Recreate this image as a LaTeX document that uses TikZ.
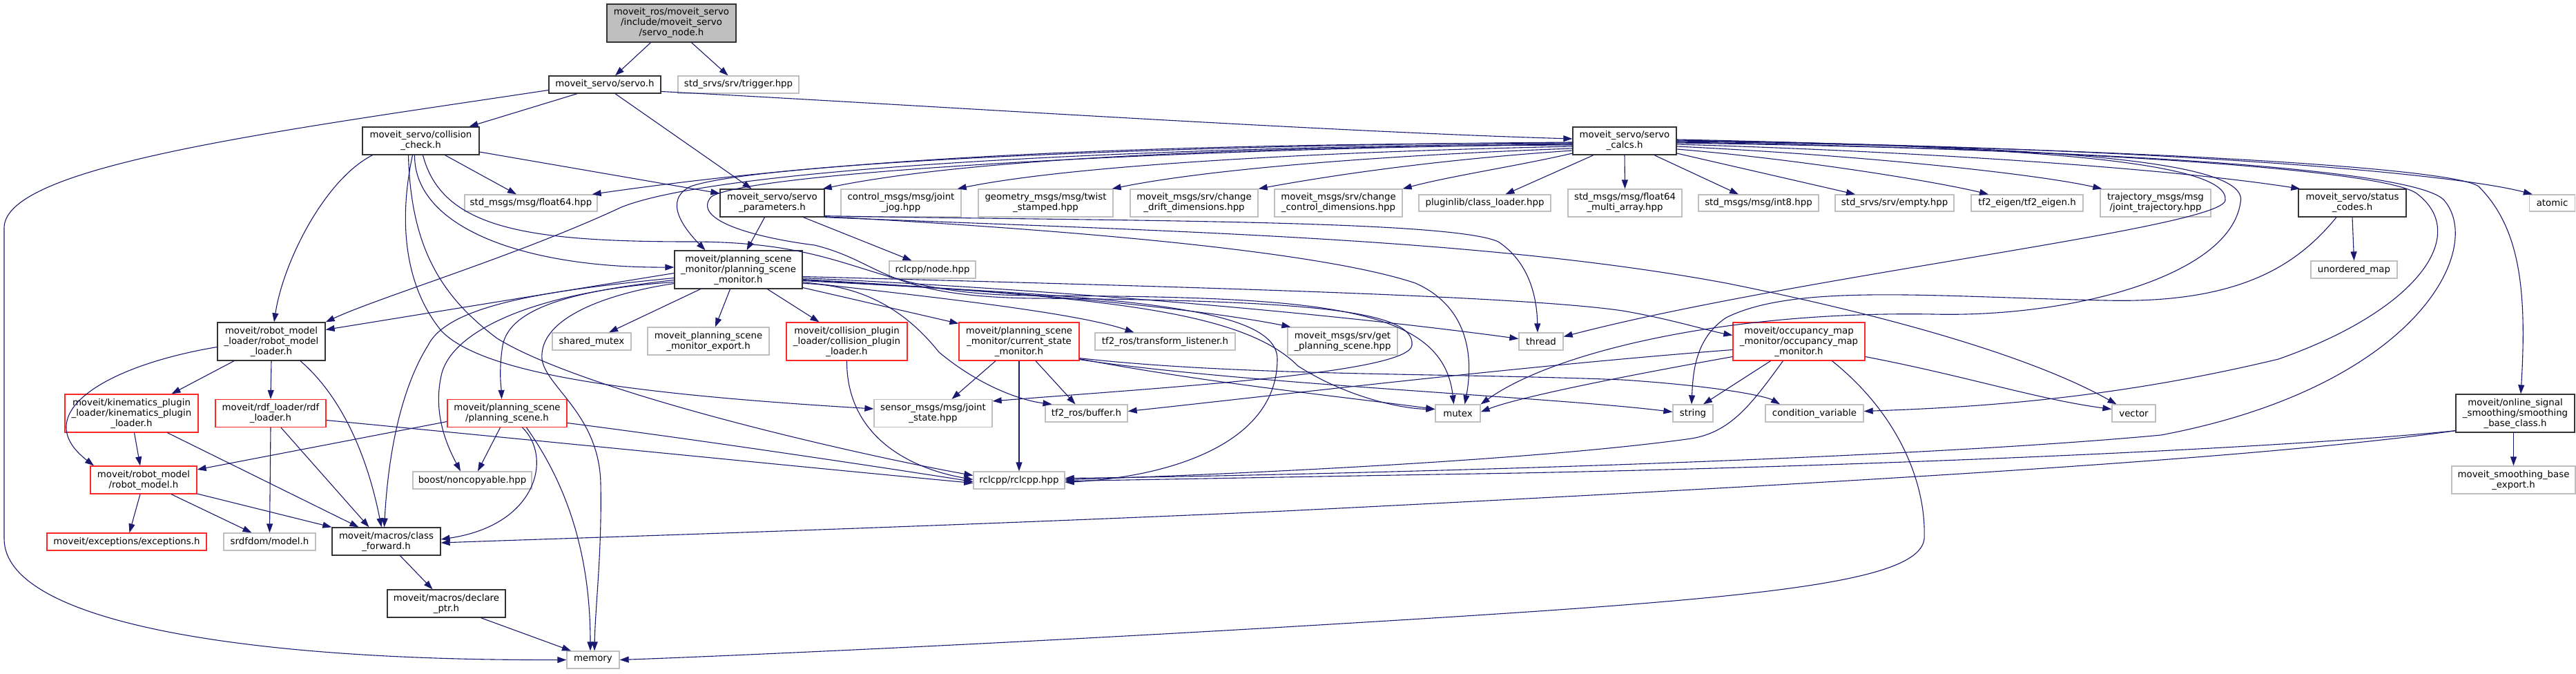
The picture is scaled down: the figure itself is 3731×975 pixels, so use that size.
\documentclass[tikz,border=0pt]{standalone}
\usepackage{fontspec}
\setmainfont{DejaVu Sans}
\usetikzlibrary{arrows.meta}
\definecolor{mblue}{HTML}{191970}
\definecolor{extgray}{HTML}{BFBFBF}
\definecolor{docborder}{HTML}{333333}
\definecolor{truncred}{HTML}{FF2828}
\definecolor{rootfill}{HTML}{BFBFBF}
\tikzset{
  basebox/.style={rectangle, inner sep=0pt, align=center, line width=1.3pt,
    font=\fontsize{13.33pt}{15pt}\selectfont},
  docbox/.style={basebox, draw=docborder},
  extbox/.style={basebox, draw=extgray},
  redbox/.style={basebox, draw=truncred},
  rootbox/.style={basebox, draw=docborder, fill=rootfill},
  e/.style={draw=mblue, line width=1.1pt, -{Triangle[length=13pt,width=9pt]}},
}
\newcommand\mknode[6]{\node[#1, minimum width=#4pt, minimum height=#5pt] (#2) at (#3) {#6};}
\begin{document}
\begin{tikzpicture}[x=1pt,y=-1pt]
\useasboundingbox (0,0) rectangle (3731,975);
% ---------- nodes ----------
\mknode{rootbox}{root}{972.5,33.5}{187}{55}{moveit\_ros/moveit\_servo\\/include/moveit\_servo\\/servo\_node.h}
\mknode{docbox}{servo}{876,122.5}{162}{25}{moveit\_servo/servo.h}
\mknode{extbox}{trigger}{1069.5,122.5}{175}{25}{std\_srvs/srv/trigger.hpp}
\mknode{docbox}{cc}{609.5,204}{169}{40}{moveit\_servo/collision\\\_check.h}
\mknode{docbox}{calcs}{2353,204}{150}{40}{moveit\_servo/servo\\\_calcs.h}
\mknode{extbox}{float64}{769,294}{192}{24}{std\_msgs/msg/float64.hpp}
\mknode{docbox}{params}{1118.5,294}{151}{40}{moveit\_servo/servo\\\_parameters.h}
\mknode{extbox}{jointjog}{1305,294}{174}{40}{control\_msgs/msg/joint\\\_jog.hpp}
\mknode{extbox}{twist}{1514.5,294}{195}{40}{geometry\_msgs/msg/twist\\\_stamped.hpp}
\mknode{extbox}{drift}{1729.5,294}{185}{40}{moveit\_msgs/srv/change\\\_drift\_dimensions.hpp}
\mknode{extbox}{control}{1938.5,294}{185}{40}{moveit\_msgs/srv/change\\\_control\_dimensions.hpp}
\mknode{extbox}{classloader}{2150.5,294}{191}{24}{pluginlib/class\_loader.hpp}
\mknode{extbox}{fmulti}{2353.5,294}{165}{40}{std\_msgs/msg/float64\\\_multi\_array.hpp}
\mknode{extbox}{int8}{2547,294}{174}{24}{std\_msgs/msg/int8.hpp}
\mknode{extbox}{empty}{2744,294}{172}{24}{std\_srvs/srv/empty.hpp}
\mknode{extbox}{tfeigen}{2936,294}{162}{24}{tf2\_eigen/tf2\_eigen.h}
\mknode{extbox}{jtraj}{3122,294}{160}{40}{trajectory\_msgs/msg\\/joint\_trajectory.hpp}
\mknode{docbox}{status}{3407,294}{156}{40}{moveit\_servo/status\\\_codes.h}
\mknode{extbox}{atomic}{3696.5,294}{66}{24}{atomic}
\mknode{docbox}{psm}{1069.5,390.5}{185}{55}{moveit/planning\_scene\\\_monitor/planning\_scene\\\_monitor.h}
\mknode{extbox}{nodehpp}{1350.5,390.5}{125}{25}{rclcpp/node.hpp}
\mknode{extbox}{unordered}{3409.5,390.5}{125}{25}{unordered\_map}
\mknode{docbox}{rml}{393,494.5}{156}{55}{moveit/robot\_model\\\_loader/robot\_model\\\_loader.h}
\mknode{extbox}{sharedmutex}{857,494.5}{114}{25}{shared\_mutex}
\mknode{extbox}{psmexport}{1026,494}{176}{40}{moveit\_planning\_scene\\\_monitor\_export.h}
\mknode{redbox}{cpl}{1226.5,494.5}{175}{55}{moveit/collision\_plugin\\\_loader/collision\_plugin\\\_loader.h}
\mknode{redbox}{csm}{1476,494.5}{174}{55}{moveit/planning\_scene\\\_monitor/current\_state\\\_monitor.h}
\mknode{extbox}{tflistener}{1687.5,494.5}{203}{25}{tf2\_ros/transform\_listener.h}
\mknode{extbox}{getps}{1944.5,494}{159}{40}{moveit\_msgs/srv/get\\\_planning\_scene.hpp}
\mknode{extbox}{thread}{2232,494.5}{64}{25}{thread}
\mknode{redbox}{omm}{2605.5,494.5}{191}{55}{moveit/occupancy\_map\\\_monitor/occupancy\_map\\\_monitor.h}
\mknode{redbox}{kpl}{190.5,598.5}{193}{55}{moveit/kinematics\_plugin\\\_loader/kinematics\_plugin\\\_loader.h}
\mknode{redbox}{rdf}{392,598.5}{160}{40}{moveit/rdf\_loader/rdf\\\_loader.h}
\mknode{redbox}{ps}{734.5,598.5}{173}{40}{moveit/planning\_scene\\/planning\_scene.h}
\mknode{extbox}{jointstate}{1351.5,598.5}{171}{40}{sensor\_msgs/msg/joint\\\_state.hpp}
\mknode{extbox}{buffer}{1573.5,598.5}{119}{25}{tf2\_ros/buffer.h}
\mknode{extbox}{mutex}{2111.5,598.5}{65}{25}{mutex}
\mknode{extbox}{string}{2452,598.5}{58}{25}{string}
\mknode{extbox}{condvar}{2628,598.5}{142}{25}{condition\_variable}
\mknode{extbox}{vector}{3090.5,598.5}{63}{25}{vector}
\mknode{docbox}{sbc}{3643,598.5}{172}{55}{moveit/online\_signal\\\_smoothing/smoothing\\\_base\_class.h}
\mknode{redbox}{rm}{208,695}{154}{40}{moveit/robot\_model\\/robot\_model.h}
\mknode{extbox}{noncopy}{684,695.5}{172}{25}{boost/noncopyable.hpp}
\mknode{extbox}{rclcpp}{1476,695.5}{132}{25}{rclcpp/rclcpp.hpp}
\mknode{extbox}{sbe}{3640.5,695}{179}{40}{moveit\_smoothing\_base\\\_export.h}
\mknode{redbox}{exc}{183.5,784.5}{231}{25}{moveit/exceptions/exceptions.h}
\mknode{extbox}{srdf}{390.5,784.5}{133}{25}{srdfdom/model.h}
\mknode{docbox}{cf}{559.5,784}{157}{40}{moveit/macros/class\\\_forward.h}
\mknode{docbox}{dp}{646.5,874}{171}{40}{moveit/macros/declare\\\_ptr.h}
\mknode{extbox}{memory}{859,955.5}{76}{25}{memory}
% ---------- edges ----------
% root
\draw[e] ([xshift=-30pt]root.south) -- ([xshift=15pt]servo.north);
\draw[e] ([xshift=29pt]root.south) -- ([xshift=-15pt]trigger.north);
% servo
\draw[e] ([xshift=-40pt]servo.south) -- ([xshift=70pt]cc.north);
\draw[e] ([xshift=15pt]servo.south) -- ([xshift=-30pt]params.north);
\draw[e] ([yshift=-10pt]servo.east) .. controls (1300,150) and (1900,190) .. ([yshift=3pt]calcs.west);
\draw[e] ([yshift=-8pt]servo.west) .. controls (400,190) and (6,240) .. (6,330) -- (6,780) .. controls (6,900) and (350,957) .. (memory.west);
% collision_check
\draw[e] ([yshift=-16pt]cc.east) -- ([yshift=14pt]params.west);
\draw[e] ([xshift=35pt]cc.south) -- ([xshift=-21pt]float64.north);
\draw[e] ([xshift=-70pt]cc.south) .. controls (470,260) and (410,380) .. ([xshift=4pt]rml.north);
\draw[e] ([xshift=-9pt]cc.south) .. controls (600,330) and (760,388) .. ([yshift=3.5pt]psm.west);
\draw[e] ([xshift=-12pt]cc.south) .. controls (575,330) and (590,420) .. (640,480) .. controls (700,540) and (900,570) .. ([yshift=6.5pt]jointstate.west);
\draw[e] ([xshift=-18pt]cc.south) .. controls (595,360) and (640,430) .. (720,490) .. controls (850,570) and (1250,660) .. ([yshift=7pt]rclcpp.west);
\draw[e] ([xshift=3pt]cc.south) .. controls (640,330) and (760,350) .. (1000,350) .. controls (1250,350) and (1250,428) .. (1500,428) .. controls (1900,430) and (2090,440) .. ([xshift=-6pt]mutex.north);
% servo_parameters
\draw[e] ([xshift=-11pt]params.south) -- ([xshift=12pt]psm.north);
\draw[e] ([xshift=45pt]params.south) -- ([xshift=-30pt]nodehpp.north);
\draw[e] ([yshift=2pt]params.south east) .. controls (1600,320) and (2100,318) .. (2170,350) .. controls (2215,380) and (2226,430) .. ([xshift=-5pt]thread.north);
\draw[e] (params.south east) .. controls (1700,335) and (2150,345) .. (2500,410) .. controls (2750,460) and (2950,520) .. ([xshift=-25pt]vector.north);
\draw[e] ([yshift=1pt]params.south east) .. controls (1500,330) and (1900,360) .. (2050,410) .. controls (2140,450) and (2130,540) .. ([xshift=10pt]mutex.north);
% servo_calcs
\draw[e] ([yshift=-6pt]calcs.west) .. controls (1800,212) and (1400,230) .. ([xshift=-3pt]params.north east);
\draw[e] ([yshift=-3pt]calcs.west) .. controls (1600,208) and (1200,232) .. ([xshift=-8pt]float64.north east);
\draw[e] ([yshift=-4pt]calcs.west) .. controls (1700,212) and (1050,240) .. (900,300) .. controls (750,370) and (550,430) .. (rml.north east);
\draw[e] ([yshift=-2pt]calcs.west) .. controls (1700,210) and (1100,235) .. (1000,270) .. controls (960,290) and (990,330) .. ([xshift=-48pt]psm.north);
\draw[e] ([yshift=-5pt]calcs.west) .. controls (1700,215) and (1080,250) .. (1030,285) .. controls (1000,320) and (1100,345) .. (1180,355) .. controls (1280,380) and (1280,430) .. (1500,432) .. controls (1900,435) and (2050,450) .. (2045,500) .. controls (2040,540) and (1700,560) .. ([yshift=-3pt]jointstate.north east);
\draw[e] ([yshift=-8pt]calcs.west) .. controls (1900,220) and (1550,240) .. ([xshift=-6pt]jointjog.north east);
\draw[e] ([yshift=-11pt]calcs.west) .. controls (2000,225) and (1750,245) .. ([xshift=-2pt]twist.north east);
\draw[e] ([yshift=-14pt]calcs.west) .. controls (2100,230) and (1950,250) .. (drift.north east);
\draw[e] ([yshift=-18pt]calcs.west) .. controls (2200,240) and (2100,255) .. (control.north east);
\draw[e] ([xshift=-45pt]calcs.south) -- ([xshift=30pt]classloader.north);
\draw[e] (calcs.south) -- (fmulti.north);
\draw[e] ([xshift=43pt]calcs.south) -- ([xshift=-29pt]int8.north);
\draw[e] ([yshift=-18pt]calcs.east) -- ([xshift=-57pt]empty.north);
\draw[e] ([yshift=-12pt]calcs.east) .. controls (2600,230) and (2800,262) .. ([xshift=-56pt]tfeigen.north);
\draw[e] ([yshift=-8pt]calcs.east) .. controls (2700,225) and (2950,252) .. ([xshift=3pt]jtraj.north west);
\draw[e] ([yshift=-5pt]calcs.east) .. controls (2800,220) and (3150,245) .. ([xshift=3pt]status.north west);
\draw[e] (calcs.east) .. controls (3100,212) and (3550,250) .. ([xshift=5pt]atomic.north west);
\draw[e] ([yshift=-1pt]calcs.east) .. controls (3000,212) and (3550,240) .. (3590,270) .. controls (3650,330) and (3660,420) .. ([xshift=8pt]sbc.north);
\draw[e] ([yshift=-2pt]calcs.east) .. controls (3000,215) and (3450,245) .. (3500,280) .. controls (3580,340) and (3500,450) .. (3300,520) .. controls (3050,580) and (2850,590) .. ([yshift=3pt]condvar.east);
\draw[e] ([yshift=-3pt]calcs.east) .. controls (3050,216) and (3500,245) .. (3540,290) .. controls (3600,360) and (3500,560) .. (3130,630) .. controls (2700,670) and (1800,690) .. ([yshift=3pt]rclcpp.east);
\draw[e] ([yshift=2pt]calcs.east) .. controls (2900,212) and (3230,230) .. (3223,290) .. controls (3218,330) and (2600,400) .. ([yshift=7pt]thread.east);
\draw[e] ([yshift=1pt]calcs.east) .. controls (2950,212) and (3260,230) .. (3245,293) .. controls (3230,400) and (3000,460) .. (2800,455) .. controls (2500,450) and (2250,510) .. (mutex.north east);
% status_codes
\draw[e] ([xshift=-23pt]status.south) .. controls (3330,380) and (3250,440) .. (3050,435) .. controls (2800,430) and (2600,410) .. (2500,460) .. controls (2455,490) and (2452,540) .. ([xshift=-2pt]string.north);
\draw[e] (status.south) -- (unordered.north);
% planning_scene_monitor
\draw[e] ([yshift=-5pt]psm.west) -- ([yshift=17pt]rml.east);
\draw[e] ([xshift=-55pt]psm.south) -- ([xshift=25pt]sharedmutex.north);
\draw[e] ([xshift=-12pt]psm.south) -- ([xshift=10pt]psmexport.north);
\draw[e] ([xshift=42pt]psm.south) -- ([xshift=-40pt]cpl.north);
\draw[e] ([yshift=-26pt]psm.east) -- ([yshift=26pt]csm.west);
\draw[e] ([yshift=-18pt]psm.east) .. controls (1300,425) and (1550,450) .. ([xshift=-45pt]tflistener.north);
\draw[e] ([yshift=-14pt]psm.east) .. controls (1400,418) and (1700,440) .. ([xshift=5pt]getps.north west);
\draw[e] ([yshift=-12pt]psm.east) .. controls (1500,418) and (1900,450) .. ([yshift=4pt]thread.west);
\draw[e] ([yshift=-15pt]psm.east) .. controls (1600,430) and (1800,450) .. (1880,530) .. controls (1950,575) and (2030,592) .. ([yshift=6pt]mutex.west);
\draw[e] ([yshift=-10pt]psm.east) .. controls (1700,415) and (2200,428) .. (2350,450) .. controls (2420,462) and (2470,478) .. ([yshift=9pt]omm.west);
\draw[e] ([yshift=-16pt]psm.east) .. controls (1600,430) and (1850,440) .. (1850,520) .. controls (1850,640) and (1700,690) .. ([yshift=-3pt]rclcpp.east);
\draw[e] ([yshift=-20pt]psm.east) .. controls (1260,412) and (1320,460) .. (1360,510) .. controls (1420,560) and (1480,580) .. ([xshift=-50pt]buffer.north);
\draw[e] ([yshift=-12pt]psm.west) .. controls (800,420) and (650,440) .. (620,500) .. controls (570,580) and (560,700) .. ([xshift=-3pt]cf.north);
\draw[e] ([yshift=-15pt]psm.west) .. controls (850,420) and (740,440) .. (728,500) .. controls (722,540) and (726,560) .. ([xshift=-8pt]ps.north);
\draw[e] ([yshift=-18pt]psm.west) .. controls (800,420) and (660,470) .. (640,540) .. controls (625,600) and (650,650) .. ([xshift=-17pt]noncopy.north);
\draw[e] ([yshift=-20pt]psm.west) .. controls (880,425) and (780,460) .. (785,520) .. controls (790,560) and (868,600) .. (870,700) .. controls (872,800) and (862,880) .. ([xshift=2pt]memory.north);
% planning_scene
\draw[e] ([yshift=-12pt]ps.west) -- ([yshift=15pt]rm.east);
\draw[e] ([xshift=-10pt]ps.south) -- ([xshift=8pt]noncopy.north);
\draw[e] ([xshift=22pt]ps.south) .. controls (800,660) and (780,760) .. ([yshift=3pt]cf.east);
\draw[e] ([xshift=28pt]ps.south) .. controls (820,700) and (855,800) .. ([xshift=-4pt]memory.north);
\draw[e] ([yshift=-14pt]ps.east) .. controls (1000,635) and (1300,680) .. ([yshift=-2pt]rclcpp.west);
% robot_model_loader
\draw[e] ([xshift=-54pt]rml.south) -- ([xshift=58pt]kpl.north);
\draw[e] (rml.south) -- (rdf.north);
\draw[e] ([xshift=42pt]rml.south) .. controls (490,570) and (530,650) .. ([xshift=-7pt]cf.north);
\draw[e] ([yshift=-8pt]rml.west) .. controls (150,530) and (40,600) .. ([xshift=-72pt]rm.north);
% kinematics_plugin_loader
\draw[e] ([xshift=4pt]kpl.south) -- ([xshift=-5pt]rm.north);
\draw[e] ([xshift=52pt]kpl.south) -- ([xshift=-40pt]cf.north);
% rdf_loader
\draw[e] (rdf.south) -- (srdf.north);
\draw[e] ([xshift=15pt]rdf.south) -- ([xshift=-25pt]cf.north);
\draw[e] ([yshift=-10pt]rdf.east) .. controls (800,640) and (1200,680) .. ([yshift=-4pt]rclcpp.west);
% robot_model
\draw[e] ([xshift=-5pt]rm.south) -- ([xshift=4pt]exc.north);
\draw[e] ([xshift=40pt]rm.south) -- ([xshift=-26pt]srdf.north);
\draw[e] ([yshift=-20pt]rm.east) -- (cf.north west);
% macros
\draw[e] ([xshift=20pt]cf.south) -- ([xshift=-20pt]dp.north);
\draw[e] ([xshift=50pt]dp.south) -- ([xshift=-32pt]memory.north);
% collision_plugin_loader
\draw[e] (cpl.south) .. controls (1226,620) and (1300,675) .. ([yshift=1pt]rclcpp.west);
% current_state_monitor
\draw[e] ([xshift=-34pt]csm.south) -- ([xshift=27pt]jointstate.north);
\draw[e] (csm.south) -- (rclcpp.north);
\draw[e] ([xshift=24pt]csm.south) -- ([xshift=-16pt]buffer.north);
\draw[e] ([yshift=3pt]csm.south east) .. controls (1750,555) and (1950,575) .. ([yshift=6pt]mutex.west);
\draw[e] ([yshift=2pt]csm.south east) .. controls (1800,556) and (2250,575) .. ([yshift=2pt]string.west);
\draw[e] ([yshift=4pt]csm.south east) .. controls (1800,545) and (2100,540) .. (2350,550) .. controls (2500,560) and (2560,575) .. ([xshift=-50pt]condvar.north);
% occupancy_map_monitor
\draw[e] ([yshift=-12pt]omm.west) .. controls (2200,530) and (1800,578) .. ([yshift=3pt]buffer.east);
\draw[e] ([yshift=-22pt]omm.west) .. controls (2350,545) and (2200,575) .. ([yshift=2pt]mutex.east);
\draw[e] ([xshift=-41pt]omm.south) -- ([xshift=15pt]string.north);
\draw[e] ([xshift=-23pt]omm.south) .. controls (2540,580) and (2510,625) .. (2450,635) .. controls (2200,670) and (1700,690) .. ([yshift=1pt]rclcpp.east);
\draw[e] ([xshift=48pt]omm.south) .. controls (2750,600) and (2790,700) .. (2787,780) .. controls (2780,850) and (2500,870) .. (1860,908) .. controls (1400,935) and (1000,952) .. (memory.east);
\draw[e] ([yshift=-22pt]omm.east) .. controls (2850,545) and (2950,578) .. ([yshift=6pt]vector.west);
% smoothing_base_class
\draw[e] ([xshift=-2.5pt]sbc.south) -- (sbe.north);
\draw[e] ([yshift=3pt]sbc.south west) .. controls (3300,650) and (2700,675) .. (2200,685) .. controls (1900,690) and (1700,694) .. ([yshift=-1pt]rclcpp.east);
\draw[e] ([yshift=3pt]sbc.south west) .. controls (3300,660) and (2800,693) .. (1860,740) .. controls (1300,765) and (800,780) .. ([yshift=-2pt]cf.east);
\end{tikzpicture}
\end{document}
